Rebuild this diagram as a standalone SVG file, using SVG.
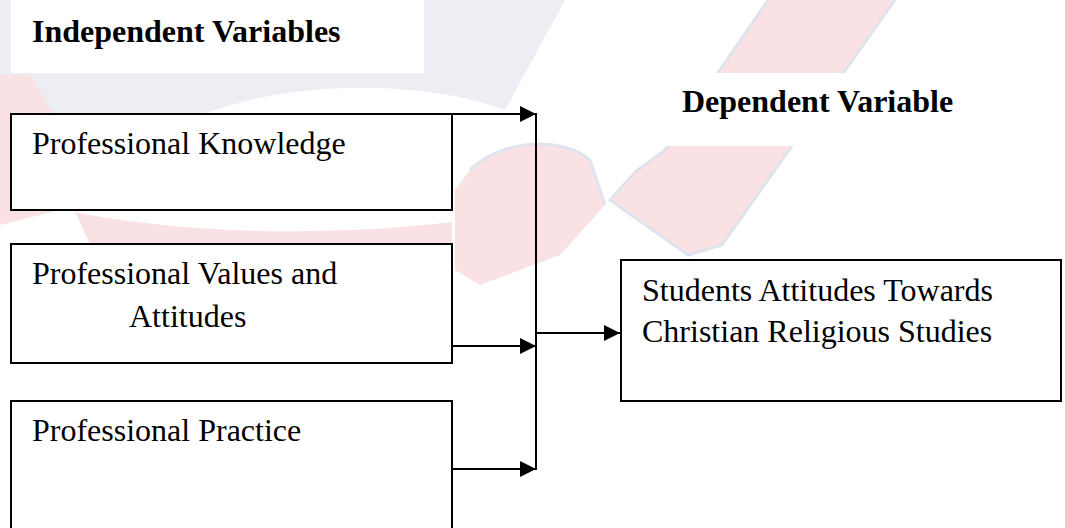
<svg xmlns="http://www.w3.org/2000/svg" width="1065" height="528" viewBox="0 0 1065 528">
<style>
.box{fill:#fff;stroke:#000;stroke-width:2}
.pad{fill:#fff;stroke:none}
.t{font-family:"Liberation Serif","Times New Roman",serif;font-size:32px;fill:#000}
.b{font-weight:bold}
.c{stroke:#000;stroke-width:2;fill:none}
.pink{fill:#f9e1e4}
.grey{fill:#eceef4}
.edge{fill:none;stroke:#dfe3ee;stroke-width:3}
</style>
<defs>
<marker id="ah" markerUnits="userSpaceOnUse" markerWidth="18" markerHeight="16" refX="16" refY="8" orient="auto">
<polygon points="0,0 16,8 0,16" fill="#000"/>
</marker>
</defs>
<rect width="1065" height="528" fill="#fff"/>
<g id="watermark">
<path class="grey" d="M0,0 L565,0 L505,110 C440,85 330,80 250,100 C170,120 90,160 40,215 L0,215 Z"/>
<path class="pink" d="M0,75 L30,75 L75,150 L60,210 L0,225 Z"/>
<path class="pink" d="M75,212 C170,232 320,238 452,222 L452,244 L90,244 Z"/>
<path class="pink" d="M470,170 C500,140 560,135 590,160 L605,205 L560,255 L480,285 L455,270 L455,190 Z"/>
<path class="pink" d="M768,0 L895,0 L722,245 L688,255 L610,200 L635,172 L665,150 Z"/>
<path class="edge" d="M768,0 L665,150 L635,172 L610,200 L688,255 L722,245 L895,0"/>
<path class="edge" d="M470,170 C500,140 560,135 590,160 L605,205"/>
</g>
<g id="title-independent">
<rect class="pad" x="11" y="0" width="413" height="73"/>
<text class="t b" x="32" y="42">Independent Variables</text>
</g>
<g id="title-dependent">
<rect class="pad" x="661" y="73" width="219" height="73"/>
<text class="t b" x="682" y="112">Dependent Variable</text>
</g>
<g id="node-knowledge">
<rect class="box" x="11" y="114" width="441" height="96"/>
<text class="t" x="32" y="154">Professional Knowledge</text>
</g>
<g id="node-values">
<rect class="box" x="11" y="244" width="441" height="119"/>
<text class="t" x="32" y="284">Professional Values and</text>
<text class="t" x="129" y="327">Attitudes</text>
</g>
<g id="node-practice">
<rect class="box" x="11" y="401" width="441" height="140"/>
<text class="t" x="32" y="441">Professional Practice</text>
</g>
<g id="node-attitudes">
<rect class="box" x="621" y="260" width="440" height="141"/>
<text class="t" x="642" y="301">Students Attitudes Towards</text>
<text class="t" x="642" y="342">Christian Religious Studies</text>
</g>
<g id="connectors">
<path class="c" d="M452,114 H536" marker-end="url(#ah)"/>
<path class="c" d="M452,346 H536" marker-end="url(#ah)"/>
<path class="c" d="M452,469 H536" marker-end="url(#ah)"/>
<path class="c" d="M536,113 V470"/>
<path class="c" d="M536,333 H620" marker-end="url(#ah)"/>
</g>
</svg>
